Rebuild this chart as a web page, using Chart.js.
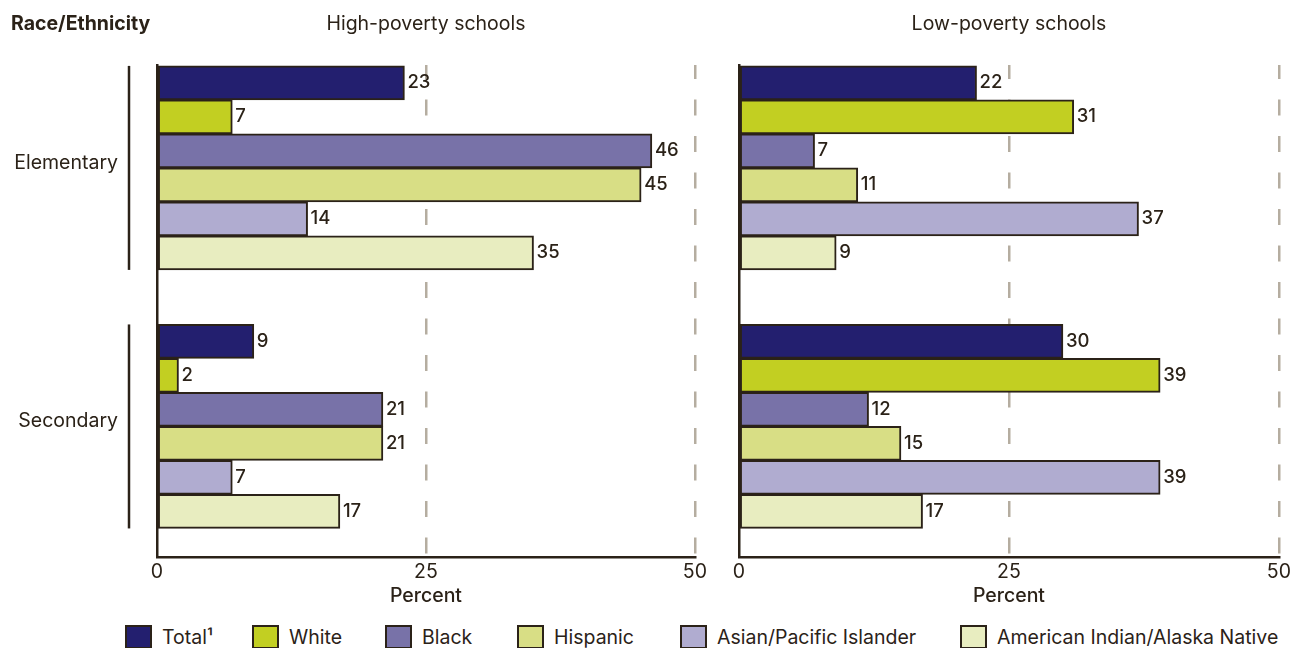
<html>
<head>
  <meta charset="utf-8" />
  <title>Race/Ethnicity by school poverty level</title>
  <script src="https://cdn.jsdelivr.net/npm/chart.js@4.4.1/dist/chart.umd.min.js"></script>
  <style>
    body {
      margin: 0;
      width: 1294px;
      height: 648px;
      position: relative;
      overflow: hidden;
      background: white;
      font-family: Inter, "Noto Sans", sans-serif;
      color: #2b2218;
    }
    canvas {
      position: absolute;
      top: 0;
    }
    .legend-item {
      position: absolute;
      top: 625px;
      height: 24px;
      display: flex;
      align-items: center;
      font-size: 19.5px;
      white-space: nowrap;
    }
    .legend-box {
      width: 23px;
      height: 20px;
      border: 2px solid #2b2218;
      margin-right: 10px;
    }
  </style>
</head>
<body>
  <canvas id="highChart" width="710" height="610" style="left:0px"></canvas>
  <canvas id="lowChart" width="584" height="610" style="left:710px"></canvas>
  <div id="legend"></div>

  <script>
    // data
    const categories = ["Elementary", "Secondary"];
    const seriesNames = ["Total¹", "White", "Black", "Hispanic", "Asian/Pacific Islander", "American Indian/Alaska Native"];
    const seriesColors = ["#231f6f", "#c2cf22", "#7872a8", "#d8de85", "#b0acd0", "#e8edc0"];
    const highElementary = [23, 7, 46, 45, 14, 35];
    const highSecondary = [9, 2, 21, 21, 7, 17];
    const lowElementary = [22, 31, 7, 11, 37, 9];
    const lowSecondary = [30, 39, 12, 15, 39, 17];
    const xTicks = [0, 25, 50];
    const legendX = [125, 252, 385, 517, 680, 960];

    const ink = "#2b2218";
    const gridInk = "#b5ada0";
    const fontFamily = "Inter, 'Noto Sans', sans-serif";
    const textSize = 19.5;

    // titles, brackets next to the groups and value labels
    const decorations = {
      id: "decorations",
      afterDatasetsDraw(chart, args, opts) {
        const ctx = chart.ctx;
        ctx.save();
        ctx.fillStyle = ink;
        ctx.font = "500 18.5px " + fontFamily;
        ctx.textAlign = "left";
        ctx.textBaseline = "middle";
        chart.data.datasets.forEach((ds, i) => {
          chart.getDatasetMeta(i).data.forEach((bar, j) => {
            ctx.fillText(ds.data[j].x, bar.x + 3, bar.y);
          });
        });
        ctx.restore();
      },
      afterDraw(chart, args, opts) {
        const ctx = chart.ctx;
        const area = chart.chartArea;
        ctx.save();
        ctx.fillStyle = ink;
        ctx.textBaseline = "middle";
        ctx.font = textSize + "px " + fontFamily;
        ctx.textAlign = "center";
        ctx.fillText(opts.title, (area.left + area.right) / 2, 24);
        if (opts.sideTitle) {
          ctx.font = "bold " + textSize + "px " + fontFamily;
          ctx.textAlign = "left";
          ctx.fillText(opts.sideTitle, 11, 24);
        }
        if (opts.bracketX) {
          const first = chart.getDatasetMeta(0).data;
          const last = chart.getDatasetMeta(chart.data.datasets.length - 1).data;
          ctx.strokeStyle = ink;
          ctx.lineWidth = 2.5;
          first.forEach((bar, j) => {
            const top = bar.y - bar.height / 2;
            const bottom = last[j].y + last[j].height / 2;
            ctx.beginPath();
            ctx.moveTo(opts.bracketX, top);
            ctx.lineTo(opts.bracketX, bottom);
            ctx.stroke();
          });
        }
        ctx.restore();
      }
    };

    function makeChart(canvasId, elementary, secondary, opts) {
      const datasets = seriesNames.map((name, s) => ({
        label: name,
        data: [
          { x: elementary[s], y: 0 },
          { x: secondary[s], y: 1 }
        ],
        backgroundColor: seriesColors[s],
        borderColor: ink,
        borderWidth: 2,
        borderSkipped: false,
        barThickness: 34
      }));

      return new Chart(document.getElementById(canvasId), {
        type: "bar",
        data: { datasets: datasets },
        options: {
          indexAxis: "y",
          responsive: false,
          animation: false,
          layout: { padding: { top: 65, right: opts.rightPad, left: 0, bottom: 0 } },
          plugins: {
            legend: { display: false },
            tooltip: { enabled: false },
            decorations: opts.deco
          },
          scales: {
            x: {
              type: "linear",
              min: 0,
              max: 50,
              afterBuildTicks: (scale) => {
                scale.ticks = xTicks.map((v) => ({ value: v }));
              },
              afterFit: (scale) => {
                scale.height = 53;
              },
              ticks: {
                padding: 3,
                color: ink,
                font: { family: fontFamily, size: textSize }
              },
              grid: {
                drawTicks: false,
                lineWidth: 2.5,
                color: (c) => (c.tick && c.tick.value === 0 ? "rgba(0,0,0,0)" : gridInk)
              },
              border: { display: true, color: ink, width: 2.5, dash: [16, 20.5], dashOffset: 2 },
              title: {
                display: true,
                text: "Percent",
                color: ink,
                padding: { top: 4, bottom: 2 },
                font: { family: fontFamily, size: textSize, weight: "500" }
              }
            },
            y: {
              type: "linear",
              reverse: true,
              offset: false,
              min: -0.398,
              max: 1.505,
              afterBuildTicks: (scale) => {
                scale.ticks = categories.map((c, i) => ({ value: i }));
              },
              afterFit: (scale) => {
                scale.width = opts.yWidth;
              },
              ticks: {
                display: opts.showCategories,
                callback: (v) => categories[v],
                padding: 39,
                labelOffset: -5,
                color: ink,
                font: { family: fontFamily, size: textSize }
              },
              grid: { display: false, drawTicks: false },
              border: { display: true, color: ink, width: 2.5 }
            }
          }
        },
        plugins: [decorations]
      });
    }

    makeChart("highChart", highElementary, highSecondary, {
      rightPad: 13,
      yWidth: 157,
      showCategories: true,
      deco: { title: "High-poverty schools", sideTitle: "Race/Ethnicity", bracketX: 129 }
    });

    makeChart("lowChart", lowElementary, lowSecondary, {
      rightPad: 12,
      yWidth: 29,
      showCategories: false,
      deco: { title: "Low-poverty schools" }
    });

    // legend along the bottom
    const legend = document.getElementById("legend");
    seriesNames.forEach((name, s) => {
      const item = document.createElement("div");
      item.className = "legend-item";
      item.style.left = legendX[s] + "px";
      const box = document.createElement("div");
      box.className = "legend-box";
      box.style.background = seriesColors[s];
      const text = document.createElement("span");
      text.textContent = name;
      item.appendChild(box);
      item.appendChild(text);
      legend.appendChild(item);
    });
  </script>
</body>
</html>
